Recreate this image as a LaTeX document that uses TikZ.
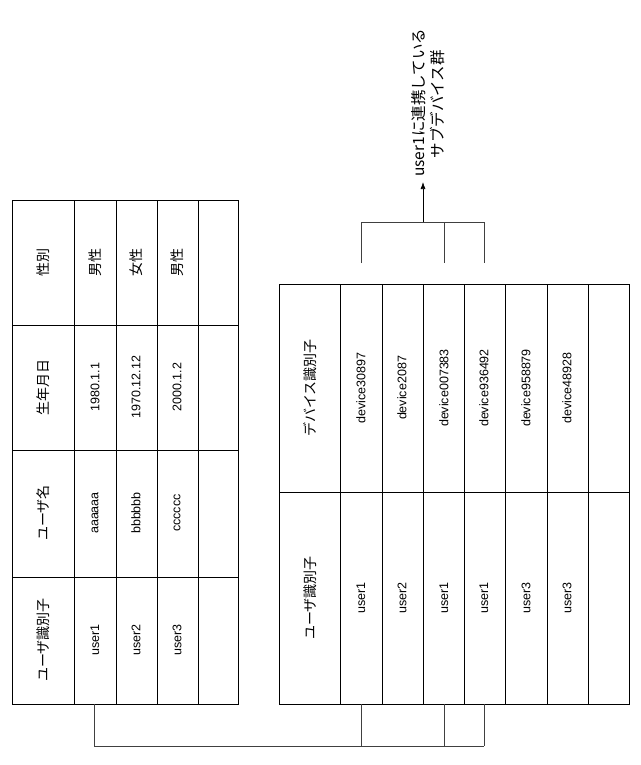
\documentclass[tikz,border=0pt]{standalone}
\usepackage{fontspec}
\setmainfont{Liberation Sans}
\newfontfamily\jp{Noto Sans CJK JP}
\usetikzlibrary{arrows.meta}
\begin{document}
\begin{tikzpicture}[x=1pt,y=-1pt,
  tbl/.style={line width=0.9pt,black},
  conn/.style={line width=0.5pt,black!75},
  txt/.style={rotate=90,font=\fontsize{12.5}{14}\selectfont,inner sep=0pt},
  htxt/.style={rotate=90,font=\jp\fontsize{14}{16}\selectfont,inner sep=0pt}]
\useasboundingbox (0,0) rectangle (640,765);
% left table
\draw[tbl] (12,200) rectangle (238,704);
\foreach \x in {74,116,157,198} \draw[tbl] (\x,200) -- (\x,704);
\foreach \y in {325,450,577} \draw[tbl] (12,\y) -- (238,\y);
\node[htxt] (h1) at (43,640) {ユーザ識別子};
\node[htxt] (h2) at (43,513) {ユーザ名};
\node[htxt] (h3) at (43,387) {生年月日};
\node[htxt] (h4) at (43,262) {性別};
\node[txt] (a1) at (95,640) {user1};
\node[txt] (a2) at (136,640) {user2};
\node[txt] (a3) at (177,640) {user3};
\node[txt] (b1) at (95,513) {aaaaaa};
\node[txt] (b2) at (136,513) {bbbbbb};
\node[txt] (b3) at (177,513) {cccccc};
\node[txt] (c1) at (95,387) {1980.1.1};
\node[txt] (c2) at (136,387) {1970.12.12};
\node[txt] (c3) at (177,387) {2000.1.2};
\node[htxt] (d1) at (95,262) {男性};
\node[htxt] (d2) at (136,262) {女性};
\node[htxt] (d3) at (177,262) {男性};
% right table
\draw[tbl] (279,284) rectangle (629,704);
\foreach \x in {340,382,423,464,505,547,588} \draw[tbl] (\x,284) -- (\x,704);
\draw[tbl] (279,492) -- (629,492);
\node[htxt] (rh1) at (310,598) {ユーザ識別子};
\node[htxt] (rh2) at (310,388) {デバイス識別子};
\foreach \x/\u/\d [count=\i] in {361/user1/device30897,402/user2/device2087,444/user1/device007383,484/user1/device936492,526/user3/device958879,567/user3/device48928}{
  \node[txt] (u\i) at (\x,598) {\u};
  \node[txt] (v\i) at (\x,388) {\d};
}
% connectors bottom
\coordinate (p0) at (94,746);
\draw[conn] (94,704) -- (p0) -- (484,746);
\foreach \x in {361,444,484} \draw[conn] (\x,704) -- (\x,746);
% connectors top
\draw[conn] (361,263) -- (361,222) -- (484,222) -- (484,263);
\draw[conn] (444,222) -- (444,263);
\coordinate (t0) at (423,222);
\coordinate (t1) at (423,182);
\draw[line width=0.7pt,-{Latex[length=7pt,width=5pt]}] (t0) -- (t1);
\node[rotate=90,anchor=south west,inner sep=0pt,align=left,font=\jp\fontsize{15.5}{19}\selectfont] (lbl) at (445,177) {user1に連携している\\\hspace*{1.2em}サブデバイス群};
\end{tikzpicture}
\end{document}
